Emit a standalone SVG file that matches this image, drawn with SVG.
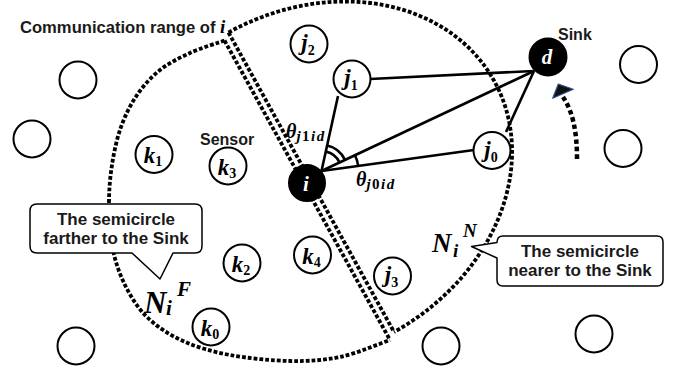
<svg xmlns="http://www.w3.org/2000/svg" width="675" height="376" viewBox="0 0 675 376">
<style>
.node{fill:#fff;stroke:#000;stroke-width:2}
.blk{fill:#000;stroke:#000;stroke-width:2}
.dot{fill:none;stroke:#000;stroke-width:3.8;stroke-dasharray:3.8 2}
.conn{fill:none;stroke:#000;stroke-width:2.6}
.lab{font-family:"Liberation Serif","DejaVu Serif",serif;font-weight:bold;font-style:italic;font-size:23px;fill:#000}
.sub{font-size:14px;font-style:normal}
.txt{font-family:"Liberation Sans",Arial,sans-serif;font-weight:bold;font-size:16px;fill:#1a1a1a}
.cbox{fill:#fff;stroke:#000;stroke-width:1.5;stroke-linejoin:round}
</style>
<rect width="675" height="376" fill="#fff"/>

<g id="range">
  <path class="dot" d="M 228.5,32.5 A 209 171 -29 0 1 394,332"/>
  <path class="dot" d="M 224.5,40.5 C 219,42.5 200.5,48.17 190,53 C 179.5,57.83 168.83,63 160,70 C 151.17,77 143.5,85.5 137,95 C 130.5,104.5 125.17,115.33 121,127 C 116.83,138.67 114,152 112,165 C 110,178 108.83,190.83 109,205 C 109.17,219.17 110.17,236.33 113,250 C 115.83,263.67 120.17,275.67 126,287 C 131.830,298.33 138.5,309 148,318 C 157.5,327 169.33,334.83 183,341 C 196.67,347.17 212.17,351.67 230,355 C 247.83,358.33 271.67,360.67 290,361 C 308.33,361.33 323.5,360.33 340,357 C 356.5,353.67 381.8,342.7 390,340"/>
  <line class="dot" x1="228.5" y1="32.5" x2="394" y2="332"/>
  <line class="dot" x1="224.5" y1="40.5" x2="390" y2="340"/>
</g>

<g id="connectors">
  <line class="conn" x1="321.5" y1="171" x2="338" y2="96"/>
  <line class="conn" x1="321.5" y1="171" x2="534" y2="71"/>
  <line class="conn" x1="321.5" y1="171" x2="474" y2="150"/>
  <line class="conn" x1="370" y1="79" x2="534" y2="71"/>
  <line class="conn" x1="506" y1="132" x2="534" y2="71"/>
  <path class="conn" d="M 327.1,145.6 A 26 26 0 0 1 345,159.9"/>
  <path class="conn" d="M 325.8,151.5 A 20 20 0 0 1 339.6,162.5"/>
  <path class="conn" d="M 355,155.3 A 37 37 0 0 1 358.2,165.9"/>
  <path fill="none" stroke="#000" stroke-width="4.5" stroke-dasharray="4.5 3" d="M 577,159 C 577,132 573,112 563,97"/>
  <polygon points="558.3,84 552.7,98.3 573.3,89.3" fill="#111" stroke="#2f5597" stroke-width="1.2" stroke-linejoin="round"/>
</g>

<g id="others">
  <circle class="node" cx="78" cy="80" r="18.5"/>
  <circle class="node" cx="32" cy="139" r="18.5"/>
  <circle class="node" cx="76" cy="346" r="18.5"/>
  <circle class="node" cx="638.5" cy="64.5" r="18.5"/>
  <circle class="node" cx="623" cy="148.5" r="18.5"/>
  <circle class="node" cx="441" cy="346" r="18.5"/>
  <circle class="node" cx="594" cy="334" r="18.5"/>
</g>

<g id="node-j2"><circle class="node" cx="309" cy="44" r="18.5"/><text class="lab" x="308" y="50" text-anchor="middle">j<tspan class="sub" dy="5">2</tspan></text></g>
<g id="node-j1"><circle class="node" cx="352" cy="79" r="18.5"/><text class="lab" x="351" y="85" text-anchor="middle">j<tspan class="sub" dy="5">1</tspan></text></g>
<g id="node-j0"><circle class="node" cx="492" cy="150.5" r="18.5"/><text class="lab" x="491" y="156.5" text-anchor="middle">j<tspan class="sub" dy="5">0</tspan></text></g>
<g id="node-j3"><circle class="node" cx="392.5" cy="276" r="18.5"/><text class="lab" x="391.5" y="282" text-anchor="middle">j<tspan class="sub" dy="5">3</tspan></text></g>
<g id="node-k1"><circle class="node" cx="154" cy="154.5" r="18.5"/><text class="lab" x="153" y="163" text-anchor="middle">k<tspan class="sub" dy="3">1</tspan></text></g>
<g id="node-k3"><circle class="node" cx="228" cy="166" r="18.5"/><text class="lab" x="227" y="174.5" text-anchor="middle">k<tspan class="sub" dy="3">3</tspan></text></g>
<g id="node-k2"><circle class="node" cx="242" cy="263" r="18.5"/><text class="lab" x="241" y="271.5" text-anchor="middle">k<tspan class="sub" dy="3">2</tspan></text></g>
<g id="node-k4"><circle class="node" cx="312.5" cy="255" r="18.5"/><text class="lab" x="311.5" y="263.5" text-anchor="middle">k<tspan class="sub" dy="3">4</tspan></text></g>
<g id="node-k0"><circle class="node" cx="211" cy="327" r="18.5"/><text class="lab" x="210" y="335.5" text-anchor="middle">k<tspan class="sub" dy="3">0</tspan></text></g>
<g id="node-i"><circle class="blk" cx="307" cy="183" r="18"/><text class="lab" x="306" y="191" text-anchor="middle" style="fill:#fff;font-size:21px">i</text></g>
<g id="node-d"><circle class="blk" cx="548" cy="57" r="18.5"/><text class="lab" x="547" y="64" text-anchor="middle" style="fill:#fff;font-size:21px">d</text></g>

<g id="callout-far">
  <path class="cbox" d="M 37,204 H 195 Q 202,204 202,211 V 246 Q 202,253 195,253 H 173 L 160,279 L 132,253 H 37 Q 30,253 30,246 V 211 Q 30,204 37,204 Z"/>
  <text class="txt" x="116" y="225" text-anchor="middle" style="font-size:17px">The semicircle</text>
  <text class="txt" x="116" y="243.5" text-anchor="middle" style="font-size:17px">farther to the Sink</text>
</g>
<g id="callout-near">
  <path class="cbox" d="M 503,236 H 657 Q 663,236 663,242 V 280 Q 663,286 657,286 H 503 Q 497,286 497,280 V 258 L 471.5,246.5 L 497,242.5 Q 497,236 503,236 Z"/>
  <text class="txt" x="580" y="256.5" text-anchor="middle" style="font-size:17px">The semicircle</text>
  <text class="txt" x="580" y="276" text-anchor="middle" style="font-size:17px">nearer to the Sink</text>
</g>

<g id="labels">
  <text class="txt" x="20" y="33" style="font-size:16.6px">Communication range of <tspan class="lab" style="font-size:19px">i</tspan></text>
  <text class="txt" x="558" y="40">Sink</text>
  <text class="txt" x="200" y="145">Sensor</text>
  <text class="lab" x="286" y="138" style="font-size:20px">θ<tspan dy="3" style="font-size:15px;letter-spacing:1.5px">j<tspan style="font-style:normal">1</tspan>id</tspan></text>
  <text class="lab" x="356" y="186" style="font-size:20px">θ<tspan dy="3" style="font-size:15px;letter-spacing:1.5px">j<tspan style="font-style:normal">0</tspan>id</tspan></text>
  <text class="lab" x="144" y="313" style="font-size:31px">N</text>
  <text class="lab" x="166" y="315" style="font-size:21px">i</text>
  <text class="lab" x="177" y="296" style="font-size:21px">F</text>
  <text class="lab" x="432" y="252" style="font-size:27px">N</text>
  <text class="lab" x="453" y="257" style="font-size:19px">i</text>
  <text class="lab" x="463" y="237" style="font-size:19px">N</text>
</g>
</svg>
